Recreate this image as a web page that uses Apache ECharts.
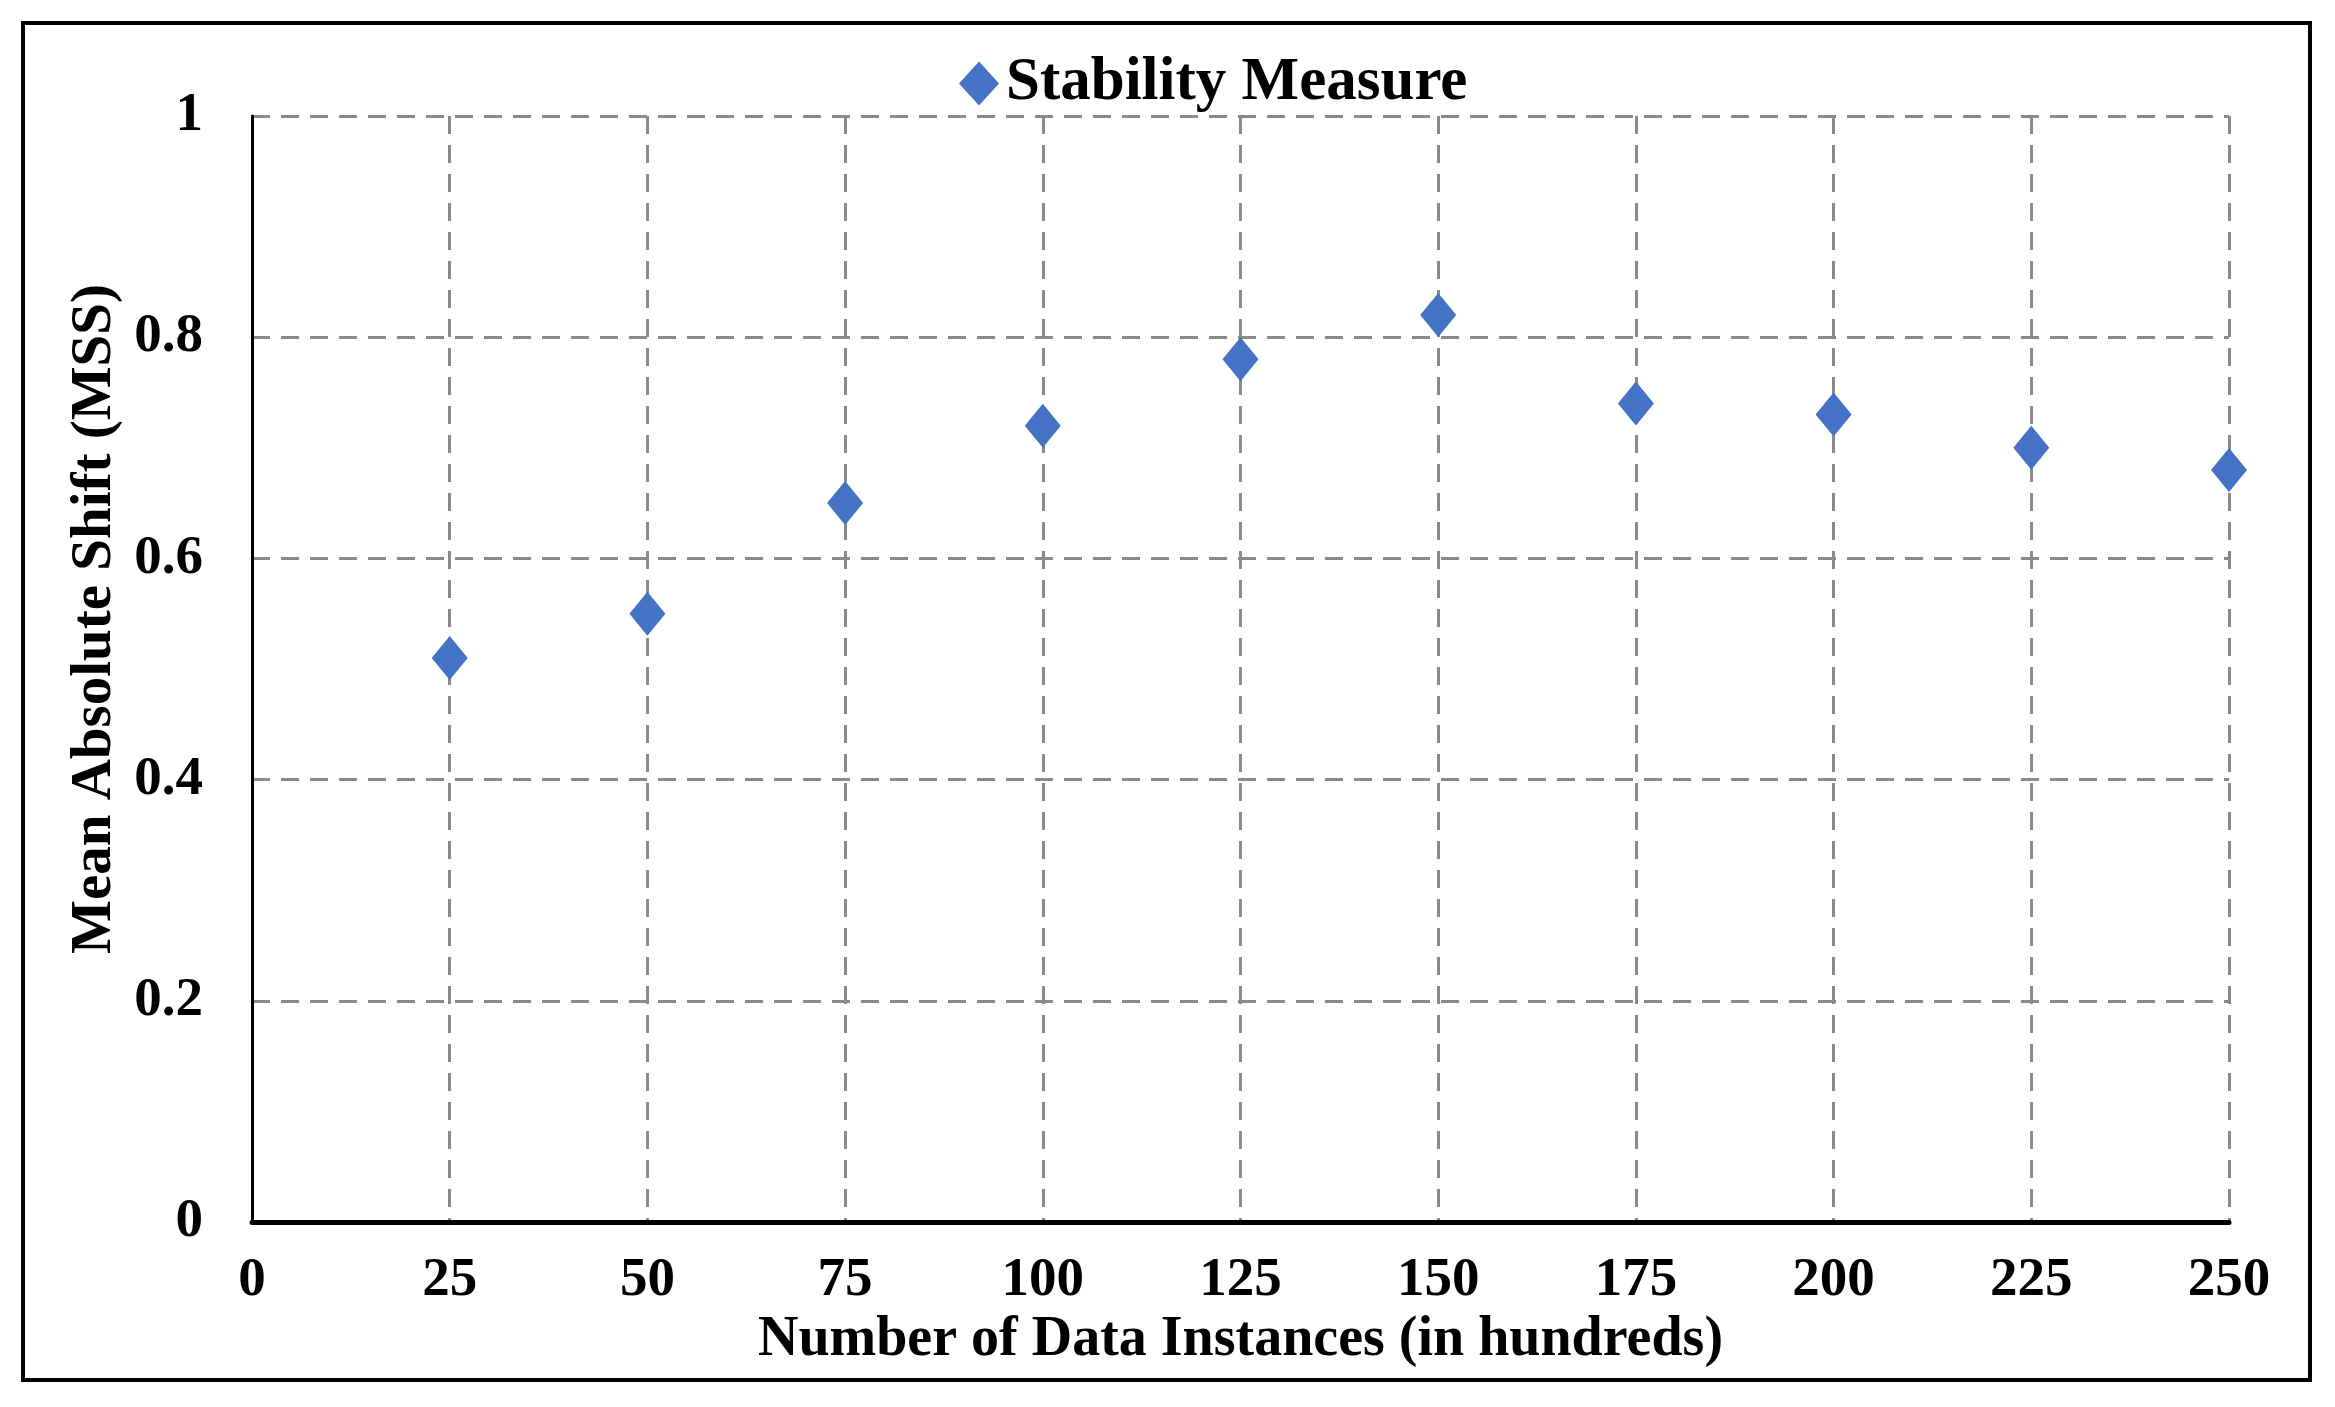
<!DOCTYPE html>
<html>
<head>
<meta charset="utf-8">
<script src="https://cdn.jsdelivr.net/npm/echarts@6/dist/echarts.min.js"></script>
<style>
html,body{margin:0;padding:0;background:#fff;}
#frame{position:absolute;left:21px;top:21px;width:2283px;height:1353px;border:4px solid #000;}
#chart{position:absolute;left:0;top:0;width:2335px;height:1407px;}
</style>
</head>
<body>
<div id="frame"></div>
<div id="chart"></div>
<script>
const seriesName = 'Stability Measure';
const xValues = [25, 50, 75, 100, 125, 150, 175, 200, 225, 250];
const yValues = [0.51, 0.55, 0.65, 0.72, 0.78, 0.82, 0.74, 0.73, 0.70, 0.68];
const xTitle = 'Number of Data Instances (in hundreds)';
const yTitle = 'Mean Absolute Shift (MSS)';

const font = 'Liberation Serif';
const chart = echarts.init(document.getElementById('chart'), null, {renderer: 'canvas'});
const gridLine = {show: true, lineStyle: {color: '#8a8a8a', width: 3, type: [18, 11]}};
chart.setOption({
  animation: false,
  backgroundColor: 'transparent',
  grid: {left: 252, right: 2335 - 2229, top: 116, bottom: 1407 - 1222, containLabel: false},
  legend: {
    show: true,
    left: 954,
    top: 48,
    itemWidth: 40,
    itemHeight: 44,
    itemGap: 0,
    textStyle: {fontFamily: font, fontWeight: 'bold', fontSize: 61, color: '#000', padding: [0, 0, 0, 2]},
    data: [{name: seriesName, icon: 'diamond', itemStyle: {color: '#4472C4', opacity: 1}}]
  },
  xAxis: {
    type: 'value',
    min: 0, max: 250, interval: 25,
    name: xTitle,
    nameLocation: 'middle',
    nameGap: 89,
    nameTextStyle: {fontFamily: font, fontWeight: 'bold', fontSize: 56, color: '#000'},
    axisLine: {show: true, lineStyle: {color: '#000', width: 5}},
    axisTick: {show: false},
    axisLabel: {fontFamily: font, fontWeight: 'bold', fontSize: 55, color: '#000', margin: 31},
    splitLine: gridLine
  },
  yAxis: {
    type: 'value',
    min: 0, max: 1, interval: 0.2,
    name: yTitle,
    nameLocation: 'middle',
    nameGap: 122,
    nameRotate: 90,
    nameTextStyle: {fontFamily: font, fontWeight: 'bold', fontSize: 57, color: '#000', padding: [0, 0, 0, 100]},
    axisLine: {show: true, onZero: false, lineStyle: {color: '#000', width: 3}},
    axisTick: {show: false},
    axisLabel: {fontFamily: font, fontWeight: 'bold', fontSize: 55, color: '#000', margin: 49,
      formatter: v => (Math.round(v * 10) / 10).toString()},
    splitLine: gridLine
  },
  series: [{
    name: seriesName,
    type: 'scatter',
    symbol: 'diamond',
    symbolSize: [36, 44],
    itemStyle: {color: '#4472C4', opacity: 1},
    data: xValues.map((x, i) => [x, yValues[i]])
  }]
});
</script>
</body>
</html>
